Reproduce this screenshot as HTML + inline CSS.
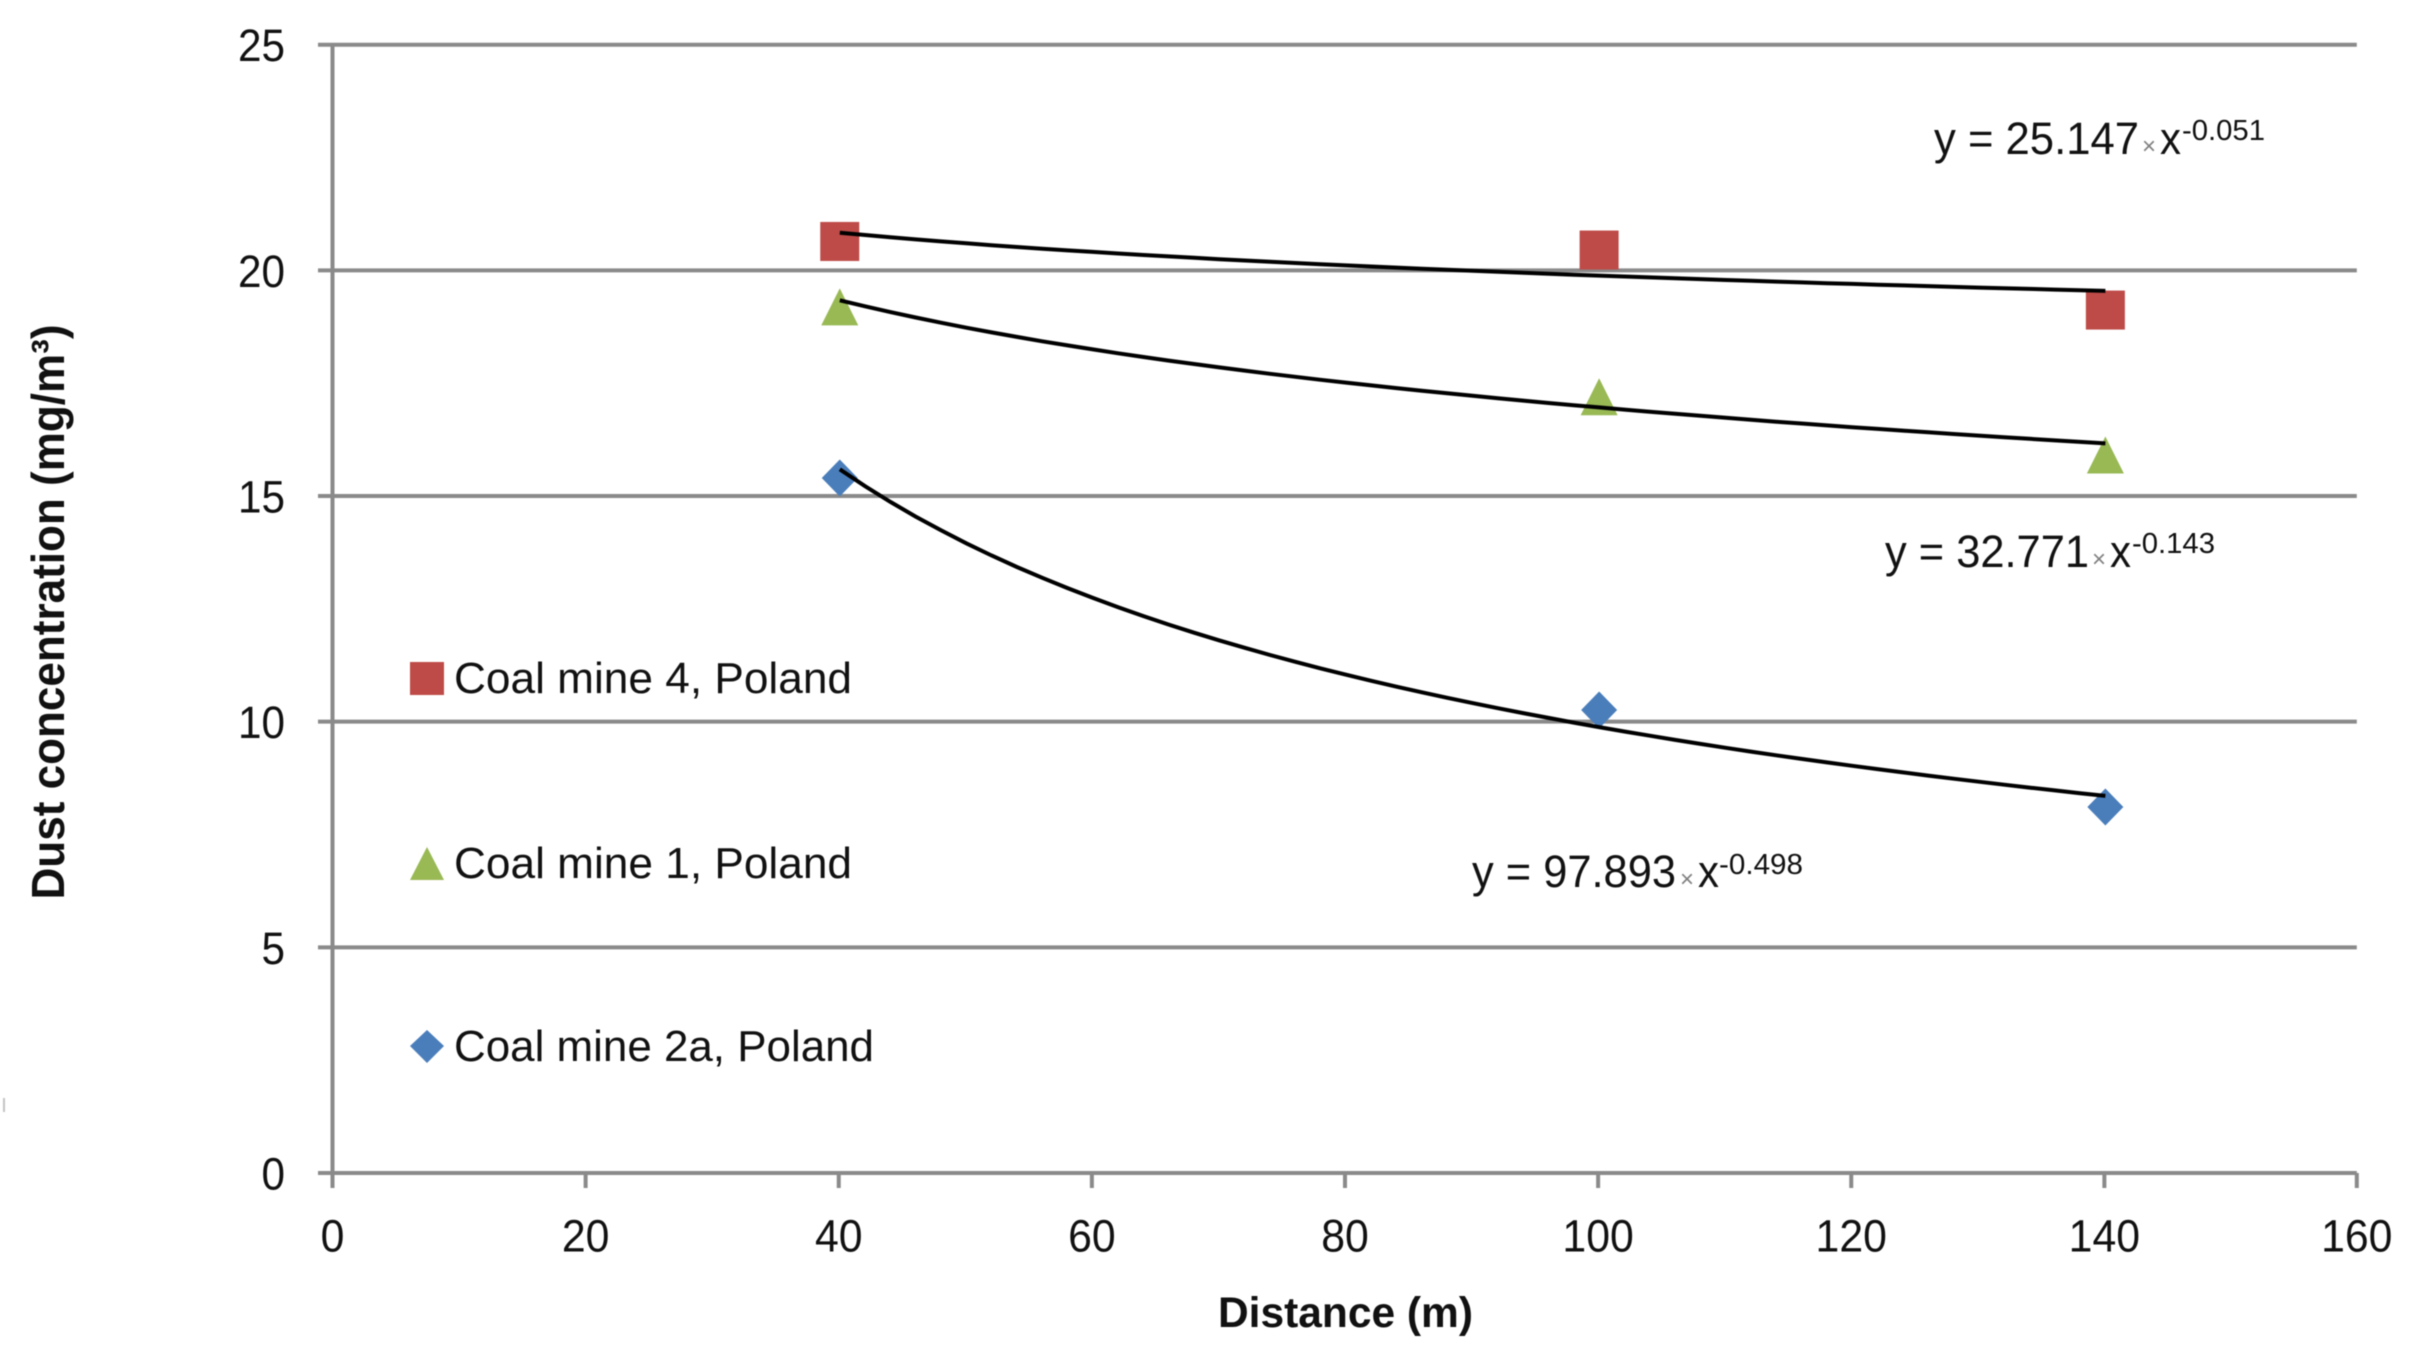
<!DOCTYPE html>
<html lang="en">
<head>
<meta charset="utf-8">
<title>Dust concentration vs distance</title>
<style>
html,body{margin:0;padding:0;background:#fff;}
svg{display:block;filter:blur(0.6px);}
text{font-family:"Liberation Sans",sans-serif;fill:#111111;}
</style>
</head>
<body>
<svg id="chart" xmlns="http://www.w3.org/2000/svg" width="2414" height="1353" viewBox="0 0 2414 1353">
  <rect x="0" y="0" width="2414" height="1353" fill="#ffffff"/>
  <rect x="3" y="1098" width="2" height="14" fill="#c4c4c4"/>
  <g id="axes"></g>
  <g id="marks" transform="translate(1 0)"></g>
  <g id="trends" transform="translate(1 0)"></g>

  <text transform="translate(64,612) rotate(-90)" text-anchor="middle" font-size="46" font-weight="700" textLength="575" lengthAdjust="spacingAndGlyphs">Dust concentration (mg/m³)</text>
  <text x="1218" y="1327" font-size="43" font-weight="700" textLength="255" lengthAdjust="spacingAndGlyphs">Distance (m)</text>

  <g>
    <text x="1934" y="154" font-size="45" textLength="205" lengthAdjust="spacingAndGlyphs">y = 25.147</text>
    <text x="2142" y="154" font-size="24" style="fill:#808080">×</text>
    <text x="2160" y="154" font-size="45" textLength="21" lengthAdjust="spacingAndGlyphs">x</text>
    <text x="2182" y="140" font-size="29" textLength="83" lengthAdjust="spacingAndGlyphs">-0.051</text>
  </g>
  <g>
    <text x="1885" y="567" font-size="45" textLength="204" lengthAdjust="spacingAndGlyphs">y = 32.771</text>
    <text x="2092" y="567" font-size="24" style="fill:#808080">×</text>
    <text x="2110" y="567" font-size="45" textLength="21" lengthAdjust="spacingAndGlyphs">x</text>
    <text x="2132" y="553" font-size="29" textLength="83" lengthAdjust="spacingAndGlyphs">-0.143</text>
  </g>
  <g>
    <text x="1472" y="887" font-size="45" textLength="204" lengthAdjust="spacingAndGlyphs">y = 97.893</text>
    <text x="1680" y="887" font-size="24" style="fill:#808080">×</text>
    <text x="1698" y="887" font-size="45" textLength="21" lengthAdjust="spacingAndGlyphs">x</text>
    <text x="1719" y="874" font-size="29" textLength="84" lengthAdjust="spacingAndGlyphs">-0.498</text>
  </g>

  <g>
    <g>
      <rect x="410" y="662" width="34" height="33" fill="#BE4B48"/>
      <text x="454" y="693" font-size="44" textLength="398" lengthAdjust="spacingAndGlyphs">Coal mine 4, Poland</text>
    </g>
    <g>
      <polygon points="427,847 444,880 410,880" fill="#98B954"/>
      <text x="454" y="878" font-size="44" textLength="398" lengthAdjust="spacingAndGlyphs">Coal mine 1, Poland</text>
    </g>
    <g>
      <polygon points="427,1030 444,1046 427,1063 410,1046" fill="#4A7EBB"/>
      <text x="454" y="1061" font-size="44" textLength="420" lengthAdjust="spacingAndGlyphs">Coal mine 2a, Poland</text>
    </g>
  </g>
</svg>
<script>
const distances = [40, 100, 140];
const mine4Values = [20.64, 20.45, 19.12];
const mine1Values = [19.19, 17.2, 15.91];
const mine2aValues = [15.4, 10.26, 8.11];
const fitCoefficients = [25.147, 32.771, 97.893];
const fitExponents = [-0.051, -0.143, -0.498];
const xTickLabels = [0, 20, 40, 60, 80, 100, 120, 140, 160];
const yTickLabels = [0, 5, 10, 15, 20, 25];

const NS = 'http://www.w3.org/2000/svg';
const X0 = 332.5, X1 = 2357.5, Y0 = 1173, Y1 = 44.7;
const GRID_END = 2356.8;
const XMAX = 160, YMAX = 25;
const AXIS = '#8a8a8a';
function xScale(v) { return X0 + (X1 - X0) * v / XMAX; }
function yScale(v) { return Y0 - (Y0 - Y1) * v / YMAX; }
function make(tag, parent) {
  const el = document.createElementNS(NS, tag);
  parent.appendChild(el);
  return el;
}
function setLine(el, x1, y1, x2, y2) {
  el.setAttribute('x1', x1);
  el.setAttribute('y1', y1);
  el.setAttribute('x2', x2);
  el.setAttribute('y2', y2);
  el.setAttribute('stroke', AXIS);
  el.setAttribute('stroke-width', 4);
}

const axes = document.getElementById('axes');
const marks = document.getElementById('marks');
const trends = document.getElementById('trends');

yTickLabels.forEach(function (v) {
  const y = yScale(v);
  const grid = make('line', axes);
  
  
  setLine(grid, 318, y, GRID_END, y);
  const label = make('text', axes);
  
  
  label.setAttribute('x', 285);
  label.setAttribute('y', y + 16.5);
  label.setAttribute('text-anchor', 'end');
  label.setAttribute('font-size', 45);
  label.setAttribute('textLength', String(v).length * 23.5);
  label.setAttribute('lengthAdjust', 'spacingAndGlyphs');
  label.textContent = v;
});

const yAxisLine = make('line', axes);


setLine(yAxisLine, X0, Y1, X0, Y0);

xTickLabels.forEach(function (v) {
  const x = Math.min(xScale(v), GRID_END);
  const tick = make('line', axes);
  
  
  setLine(tick, x, Y0, x, 1188);
  const label = make('text', axes);
  
  
  label.setAttribute('x', x);
  label.setAttribute('y', 1251.5);
  label.setAttribute('text-anchor', 'middle');
  label.setAttribute('font-size', 45);
  label.setAttribute('textLength', String(v).length * 23.8);
  label.setAttribute('lengthAdjust', 'spacingAndGlyphs');
  label.textContent = v;
});

mine4Values.forEach(function (v, i) {
  const cx = xScale(distances[i]);
  const cy = yScale(v);
  const m = make('rect', marks);
  
  
  m.setAttribute('x', cx - 19.5);
  m.setAttribute('y', cy - 19.5);
  m.setAttribute('width', 39);
  m.setAttribute('height', 39);
  m.setAttribute('fill', '#BE4B48');
});
mine1Values.forEach(function (v, i) {
  const cx = xScale(distances[i]);
  const cy = yScale(v);
  const m = make('polygon', marks);
  
  
  m.setAttribute('points', [cx, cy - 18.5, cx + 18.5, cy + 18.5, cx - 18.5, cy + 18.5].join(' '));
  m.setAttribute('fill', '#98B954');
});
mine2aValues.forEach(function (v, i) {
  const cx = xScale(distances[i]);
  const cy = yScale(v);
  const m = make('polygon', marks);
  
  
  m.setAttribute('points', [cx, cy - 18.5, cx + 18, cy, cx, cy + 18.5, cx - 18, cy].join(' '));
  m.setAttribute('fill', '#4A7EBB');
});

fitCoefficients.forEach(function (a, i) {
  const b = fitExponents[i];
  const start = distances[0];
  const end = distances[distances.length - 1];
  const pts = [];
  for (let k = 0; k <= 50; k++) {
    const d = start + (end - start) * k / 50;
    pts.push(xScale(d).toFixed(1) + ',' + yScale(a * Math.pow(d, b)).toFixed(1));
  }
  const t = make('polyline', trends);
  
  
  t.setAttribute('points', pts.join(' '));
  t.setAttribute('fill', 'none');
  t.setAttribute('stroke', '#000000');
  t.setAttribute('stroke-width', 4);
});
</script>
</body>
</html>
